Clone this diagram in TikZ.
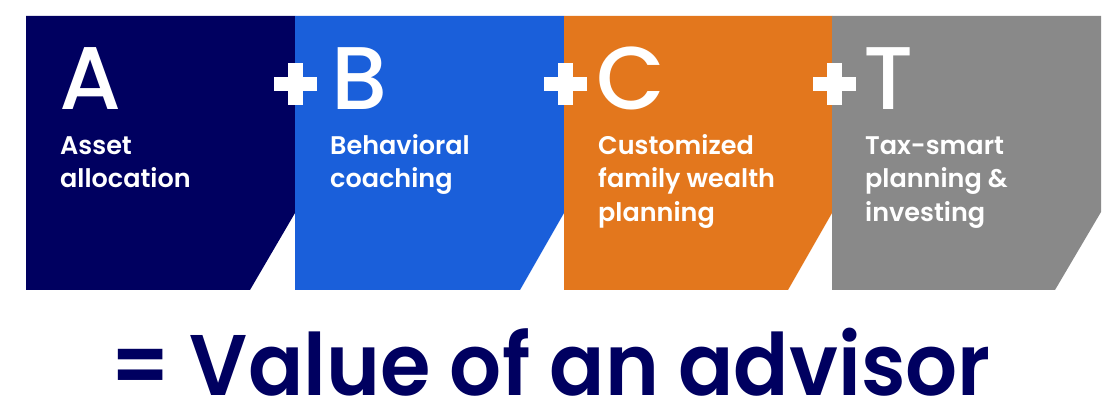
\documentclass[tikz,border=0pt]{standalone}
\usepackage{fontspec}
\setmainfont{Poppins}
\newfontfamily\pmed{Poppins Medium}
\newfontfamily\psemi{Poppins SemiBold}
\definecolor{navy}{RGB}{0,0,96}
\definecolor{vblue}{RGB}{26,95,218}
\definecolor{vorange}{RGB}{227,119,29}
\definecolor{vgrey}{RGB}{137,137,137}
\begin{document}
\begin{tikzpicture}[x=1pt,y=-1pt,
  bigletter/.style={anchor=base west,inner sep=0pt,text=white,text depth=0pt,font=\pmed\fontsize{89}{89}\selectfont},
  paneltext/.style={anchor=base west,inner sep=0pt,text=white,align=left,font=\psemi\fontsize{25.5}{33.5}\selectfont},
  plussign/.style={fill=white}]
\useasboundingbox (0,0) rectangle (1109,411);
\fill[white] (0,0) rectangle (1109,411);
% panels
\fill[navy] (26,16) -- (295,16) -- (295,213) -- (250,290) -- (26,290) -- cycle;
\fill[vblue] (295,16) -- (564,16) -- (564,213) -- (520,290) -- (295,290) -- cycle;
\fill[vorange] (564,16) -- (832,16) -- (832,213) -- (788,290) -- (564,290) -- cycle;
\fill[vgrey] (832,16) -- (1101,16) -- (1101,212) -- (1055,290) -- (832,290) -- cycle;
% plus signs
\foreach \cx in {295.5,565,834.5}{
  \fill[plussign] (\cx-21.5,77) rectangle (\cx+21.5,91);
  \fill[plussign] (\cx-7.5,63) rectangle (\cx+7.5,105);
}
% letters
\node[bigletter] (lA) at (59,110) {A};
\node[bigletter] (lB) at (331,110) {B};
\node[bigletter] (lC) at (596,110) {C};
\node[bigletter] (lT) at (863,110) {T};
% texts (anchored at the baseline of their last line)
\node[paneltext] (tA) at (60,188) {Asset\\allocation};
\node[paneltext] (tB) at (330,188) {Behavioral\\coaching};
\node[paneltext] (tC) at (598,221.5) {Customized\\family wealth\\planning};
\node[paneltext] (tT) at (865,221.5) {Tax-smart\\planning \&\\investing};
% bottom line
\node[anchor=base west,inner sep=0pt,text=navy,text depth=0pt,font=\psemi\fontsize{86}{86}\selectfont] (val) at (110,396) {\scalebox{0.95}[1]{= Value of an advisor}};
\end{tikzpicture}
\end{document}
